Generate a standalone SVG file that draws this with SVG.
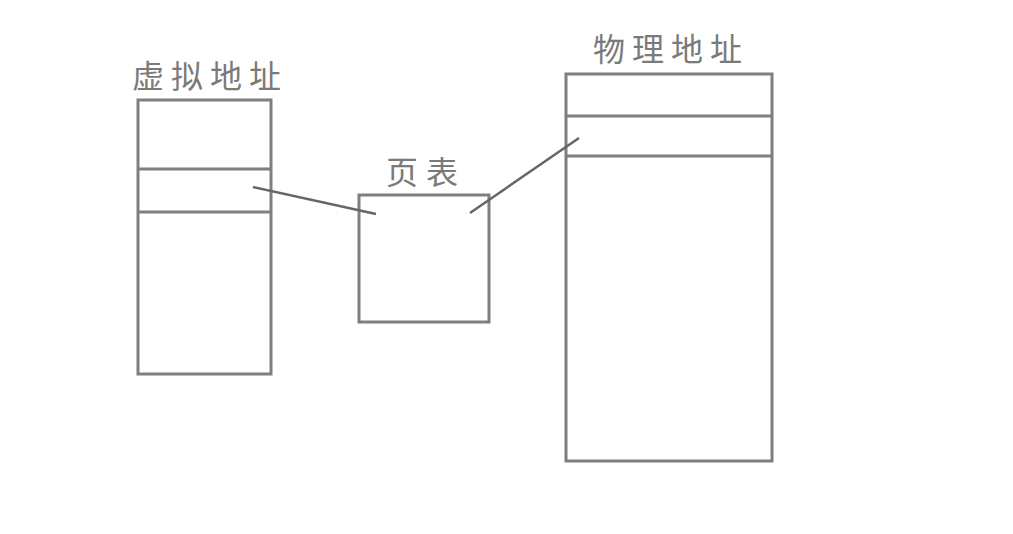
<svg xmlns="http://www.w3.org/2000/svg" width="1013" height="534" viewBox="0 0 1013 534">
<style>
.box{fill:#fff;stroke:#7f7f7f;stroke-width:3}
.div{stroke:#7f7f7f;stroke-width:3}
.lbl{font-family:"Noto Sans CJK SC","Noto Sans",sans-serif;font-weight:400;fill:#7a7a7a;font-size:32px;letter-spacing:7px}
.con{stroke:#666;stroke-width:2.5;fill:none}
</style>
<rect width="1013" height="534" fill="#fff"/>
<g id="virtual">
<rect class="box" x="138" y="100" width="133" height="274"/>
<line class="div" x1="138" y1="169" x2="271" y2="169"/>
<line class="div" x1="138" y1="212" x2="271" y2="212"/>
<text class="lbl" x="132" y="88">虚拟地址</text>
</g>
<g id="pagetable">
<rect class="box" x="359" y="195" width="130" height="127"/>
<text class="lbl" x="386" y="184" style="letter-spacing:8px">页表</text>
</g>
<g id="physical">
<rect class="box" x="566" y="74" width="206" height="387"/>
<line class="div" x1="566" y1="116" x2="772" y2="116"/>
<line class="div" x1="566" y1="156" x2="772" y2="156"/>
<text class="lbl" x="593" y="61">物理地址</text>
</g>
<g id="connectors">
<line class="con" x1="253" y1="187" x2="376" y2="214"/>
<line class="con" x1="470" y1="213" x2="579" y2="138"/>
</g>
</svg>
